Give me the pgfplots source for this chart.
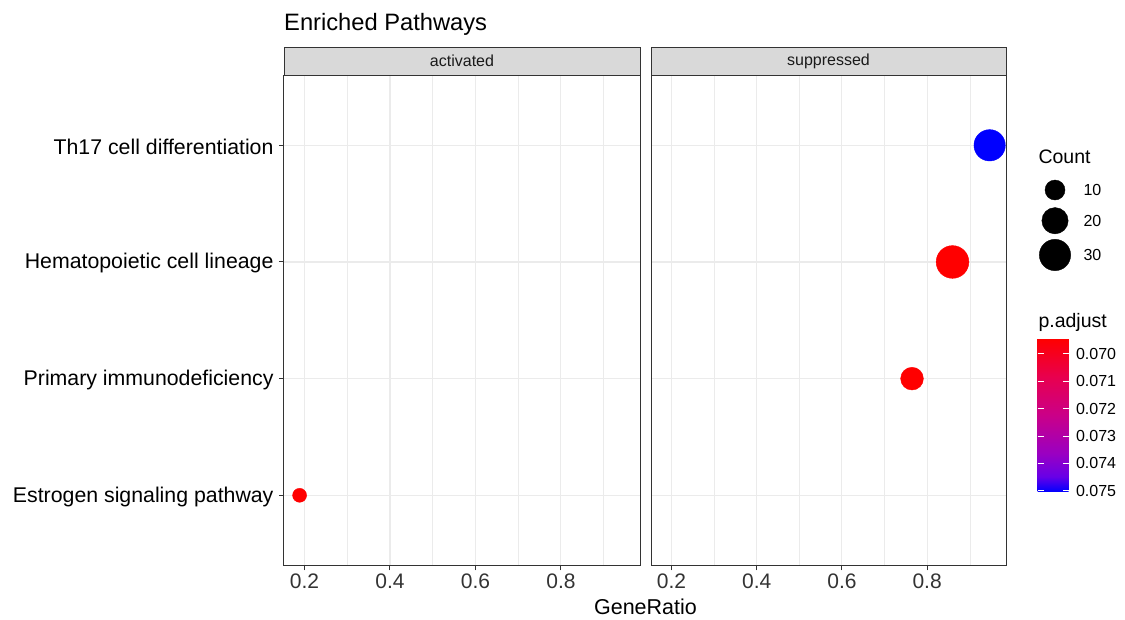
\documentclass[border=0pt]{standalone}
\usepackage{pgfplots}
\pgfplotsset{compat=1.18}
\usepackage{pgfplotstable}
\usepackage{fontspec}
\setmainfont{Liberation Sans}
\definecolor{gray20}{HTML}{333333}
\definecolor{gray92}{HTML}{EBEBEB}
\definecolor{gray85}{HTML}{D9D9D9}
\definecolor{gray10}{HTML}{1A1A1A}

\pgfplotstableread{
x y count padj
0.1885 1 3 0.06945
}\activated
\pgfplotstableread{
x y count padj
0.7645 2 14 0.06945
0.8595 3 33 0.06945
0.9466 4 30 0.07504
}\suppressed
\pgfplotstableread{
x y count
25 -15 10
25 -45.7 20
25 -80 30
}\sizelegend

\pgfplotsset{
  colormap={br}{rgb255(0pt)=(0,0,255) rgb255(10pt)=(104,0,231) rgb255(25pt)=(154,0,194) rgb255(50pt)=(202,0,136) rgb255(75pt)=(232,0,79) rgb255(100pt)=(255,0,0)},
  panel/.style={
    scale only axis, height=490pt,
    xmin=0.152, xmax=0.985, ymin=0.4, ymax=4.6,
    xtick={0.2,0.4,0.6,0.8}, minor xtick={0.3,0.5,0.7,0.9},
    ytick={1,2,3,4},
    grid=both,
    major grid style={gray92, line width=1.1pt},
    minor grid style={gray92, line width=0.55pt},
    axis line style={gray20, line width=1pt},
    tick style={gray20, line width=1pt},
    major tick length=5pt, minor tick length=0pt,
    tick align=outside, tick pos=left,
    /pgf/number format/assume math mode=true,
    xticklabel style={font=\fontsize{21}{25}\selectfont, text=gray20, /pgf/number format/fixed, /pgf/number format/precision=1},
    yticklabel style={font=\fontsize{21.3}{25}\selectfont, text=black, xshift=-2pt, yshift=-1.5pt},
    point meta min=-0.07504, point meta max=-0.06945,
    colormap name=br,
  },
  dots/.style={
    scatter, only marks, mark=*,
    point meta={-\thisrow{padj}},
    scatter/use mapped color={draw=mapped color, fill=mapped color},
    visualization depends on={sqrt(27+7.3*\thisrow{count}) \as \rad},
    scatter/@pre marker code/.append style={/tikz/mark size=\rad},
  },
}

\begin{document}
\begin{tikzpicture}
\useasboundingbox (0,0) rectangle (1125pt,-619pt);

% strips
\draw[gray20, line width=1pt, fill=gray85] (284pt,-47pt) rectangle (640pt,-75.3pt);
\draw[gray20, line width=1pt, fill=gray85] (651pt,-47pt) rectangle (1006pt,-75.3pt);
\node[text=gray10, font=\fontsize{16}{19}\selectfont] at (462pt,-61.2pt) {activated};
\node[text=gray10, font=\fontsize{16}{19}\selectfont] at (828.5pt,-61.2pt) {suppressed};

\begin{axis}[panel, width=356pt, at={(284pt,-565.3pt)}, anchor=south west,
  yticklabels={Estrogen signaling pathway, Primary immunodeficiency, Hematopoietic cell lineage, Th17 cell differentiation}]
\addplot[dots] table[x=x, y=y] {\activated};
\end{axis}

\begin{axis}[panel, width=355pt, at={(651pt,-565.3pt)}, anchor=south west,
  yticklabels={}, ytick style={draw=none},
  colorbar,
  /pgfplots/colorbar/width=31pt,
  colorbar style={
    at={(parent axis.south west)}, anchor=north west,
    xshift=378pt, yshift=226.5pt,
    scale only axis, width=31pt, height=153pt,
    ytick={-0.075,-0.074,-0.073,-0.072,-0.071,-0.070},
    yticklabels={0.075,0.074,0.073,0.072,0.071,0.070},
    scaled y ticks=false,
    yticklabel style={font=\fontsize{16}{19}\selectfont, text=black, xshift=4pt},
    yticklabel pos=right, ytick pos=both,
    tick style={white, line width=0.8pt}, major tick length=6pt, tick align=inside,
    axis line style={draw=none},
  }]
\addplot[dots] table[x=x, y=y] {\suppressed};
\end{axis}

% size legend
\begin{axis}[at={(1030pt,-175pt)}, anchor=north west, scale only axis,
  width=100pt, height=100pt, xmin=0, xmax=100, ymin=-100, ymax=0,
  hide axis, clip=false]
\addplot[only marks, mark=*, black,
  scatter, scatter/use mapped color={draw=black, fill=black},
  visualization depends on={sqrt(27+7.3*\thisrow{count}) \as \rad},
  scatter/@pre marker code/.append style={/tikz/mark size=\rad}]
  table[x=x, y=y] {\sizelegend};
\end{axis}

\node[anchor=west, font=\fontsize{19.5}{23}\selectfont] at (1035pt,-157pt) {Count};
\node[anchor=west, font=\fontsize{16}{19}\selectfont] at (1080pt,-190pt) {10};
\node[anchor=west, font=\fontsize{16}{19}\selectfont] at (1080pt,-220.7pt) {20};
\node[anchor=west, font=\fontsize{16}{19}\selectfont] at (1080pt,-255pt) {30};
\node[anchor=west, font=\fontsize{19.5}{23}\selectfont] at (1035pt,-322pt) {p.adjust};

\node[anchor=base west, font=\fontsize{23.7}{28}\selectfont, inner sep=0pt] at (284pt,-30.5pt) {Enriched Pathways};
\node[font=\fontsize{21.5}{25}\selectfont, text=black] at (645.5pt,-607pt) {GeneRatio};
\end{tikzpicture}
\end{document}
